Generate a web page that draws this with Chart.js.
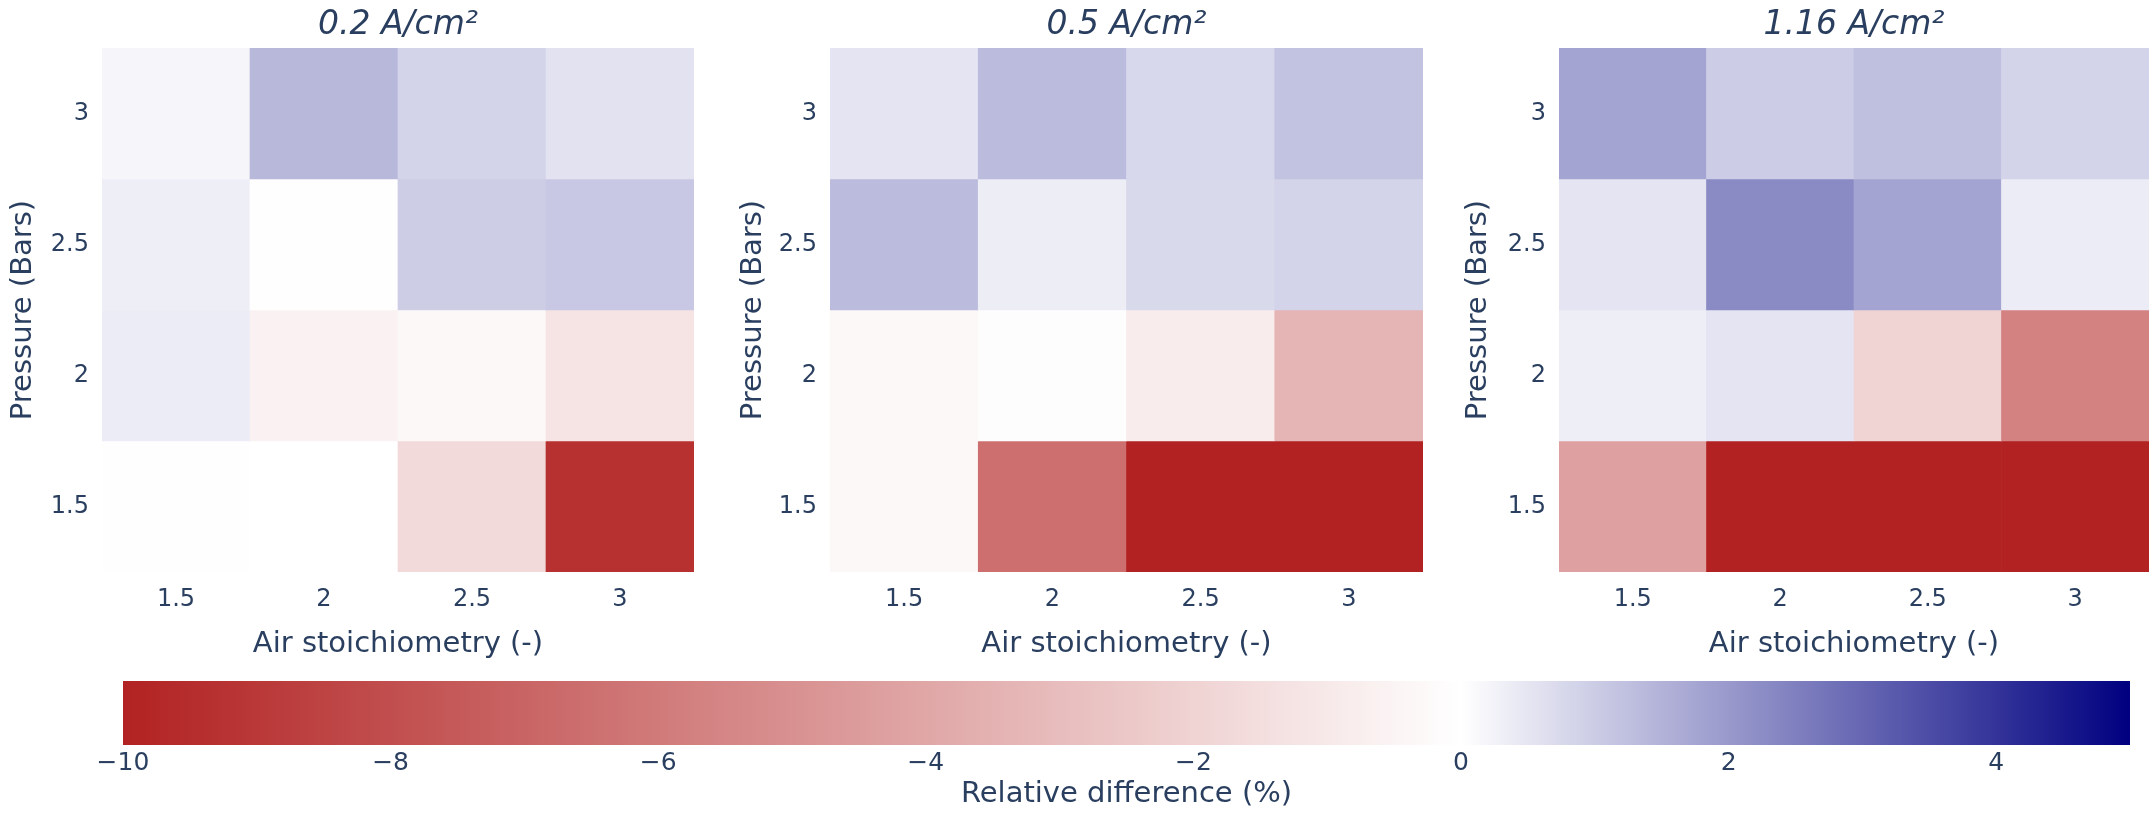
<!DOCTYPE html>
<html><head><meta charset="utf-8">
<script src="https://cdn.jsdelivr.net/npm/chart.js@4.4.1/dist/chart.umd.min.js"></script>
<style>
html,body{margin:0;padding:0;background:#fff;width:2152px;height:821px;overflow:hidden;}
.box{position:absolute;}
canvas{display:block;}
</style></head><body>
<div class="box" style="left:0px;top:0px"><canvas id="c1" width="700" height="672"></canvas></div>
<div class="box" style="left:730px;top:0px"><canvas id="c2" width="700" height="672"></canvas></div>
<div class="box" style="left:1455px;top:0px"><canvas id="c3" width="697" height="672"></canvas></div>
<div class="box" style="left:0px;top:670px"><canvas id="cb" width="2152" height="151"></canvas></div>
<script>
// ---- data ----
const stoichLabels = ['1.5', '2', '2.5', '3'];      // Air stoichiometry (-)
const pressures = [3, 2.5, 2, 1.5];                   // Pressure (Bars), rows top -> bottom
const panelTitles = ['0.2 A/cm²', '0.5 A/cm²', '1.16 A/cm²'];
// relative difference (%), rows = pressures, cols = stoichLabels
const diff_0_2 = [
  [0.2, 1.4, 0.86, 0.57],
  [0.33, -0.05, 0.98, 1.08],
  [0.37, -0.59, -0.3, -1.2],
  [-0.03, 0.0, -1.67, -9.3]
];
const diff_0_5 = [
  [0.53, 1.33, 0.76, 1.2],
  [1.33, 0.35, 0.75, 0.86],
  [-0.3, -0.1, -0.86, -3.35],
  [-0.3, -6.5, -10.5, -10.5]
];
const diff_1_16 = [
  [1.78, 1.0, 1.25, 0.86],
  [0.53, 2.3, 1.78, 0.37],
  [0.33, 0.53, -2.0, -5.7],
  [-4.3, -10.5, -10.5, -10.5]
];
const colorbarTicks = [-10, -8, -6, -4, -2, 0, 2, 4];
const zmin = -10, zmax = 5;

// ---- style ----
const TXT = '#2a3f5f';
const FONT = "'DejaVu Sans', Verdana, sans-serif";
const RED = [178, 34, 34], WHITE = [255, 255, 255], NAVY = [0, 0, 128];
Chart.defaults.font.family = FONT;
Chart.defaults.color = TXT;
Chart.defaults.animation = false;

function mix(a, b, t) { return 'rgb(' + a.map((v, i) => Math.round(v + (b[i] - v) * t)).join(',') + ')'; }
function colorFor(v) {
  const c = Math.max(zmin, Math.min(zmax, v));
  return c <= 0 ? mix(WHITE, RED, c / zmin) : mix(WHITE, NAVY, c / zmax);
}

function heatChart(id, title, values, yAxisWidth, padRight) {
  const half = (pressures[0] - pressures[1]) / 2;
  const datasets = pressures.map((p, r) => ({
    data: stoichLabels.map(() => [p - half, p + half]),
    backgroundColor: values[r].map(colorFor),
    borderWidth: 0, grouped: false, barPercentage: 1, categoryPercentage: 1
  }));
  const pMin = Math.min(...pressures) - half, pMax = Math.max(...pressures) + half;
  return new Chart(document.getElementById(id), {
    type: 'bar',
    data: { labels: stoichLabels, datasets },
    options: {
      responsive: false, devicePixelRatio: 1,
      layout: { padding: { right: padRight, left: 0, top: 0, bottom: 0 } },
      plugins: {
        legend: { display: false }, tooltip: { enabled: false },
        title: { display: true, text: title, fullSize: false, color: TXT,
          font: { size: 33, style: 'italic', weight: 'normal', family: FONT },
          padding: { top: 6, bottom: 2.4 } }
      },
      scales: {
        x: {
          type: 'category',
          grid: { display: false }, border: { display: false },
          ticks: { font: { size: 24 }, color: TXT, padding: 5, maxRotation: 0 },
          title: { display: true, text: 'Air stoichiometry (-)', color: TXT, font: { size: 29 }, padding: { top: 0, bottom: 10 } },
          afterFit: s => { s.height = 100; }
        },
        y: {
          type: 'linear', min: pMin, max: pMax,
          afterBuildTicks: s => { s.ticks = pressures.map(v => ({ value: v })); },
          grid: { display: false }, border: { display: false },
          ticks: { font: { size: 24 }, color: TXT, padding: 5, callback: v => String(v) },
          title: { display: true, text: 'Pressure (Bars)', color: TXT, font: { size: 29 }, padding: { top: 6, bottom: 0 } },
          afterFit: s => { s.width = yAxisWidth; }
        }
      }
    }
  });
}

heatChart('c1', panelTitles[0], diff_0_2, 102, 6);
heatChart('c2', panelTitles[1], diff_0_5, 100, 7);
heatChart('c3', panelTitles[2], diff_1_16, 104, 3);

// ---- colorbar ----
new Chart(document.getElementById('cb'), {
  type: 'bar',
  data: {
    labels: ['Relative difference (%)'],
    datasets: [{
      data: [[zmin, zmax]],
      backgroundColor: ctx => {
        const ch = ctx.chart, a = ch.chartArea;
        if (!a) return 'rgba(0,0,0,0)';
        const g = ch.ctx.createLinearGradient(a.left, 0, a.right, 0);
        g.addColorStop(0, mix(RED, RED, 0));
        g.addColorStop((0 - zmin) / (zmax - zmin), mix(WHITE, WHITE, 0));
        g.addColorStop(1, mix(NAVY, NAVY, 0));
        return g;
      },
      borderWidth: 0, barPercentage: 1, categoryPercentage: 1
    }]
  },
  options: {
    indexAxis: 'y', responsive: false, devicePixelRatio: 1,
    layout: { padding: { left: 123, right: 22, top: 11, bottom: 0 } },
    plugins: { legend: { display: false }, tooltip: { enabled: false }, title: { display: false } },
    scales: {
      x: {
        type: 'linear', min: zmin, max: zmax,
        afterBuildTicks: s => { s.ticks = colorbarTicks.map(v => ({ value: v })); },
        grid: { display: false }, border: { display: false },
        ticks: { font: { size: 25 }, color: TXT, padding: -5, maxRotation: 0,
          callback: v => (v < 0 ? '\u2212' + Math.abs(v) : String(v)) },
        title: { display: true, text: 'Relative difference (%)', color: TXT, font: { size: 29 }, padding: { top: 0, bottom: 9 } },
        afterFit: s => { s.height = 76; }
      },
      y: { display: false }
    }
  }
});
</script>
</body></html>
